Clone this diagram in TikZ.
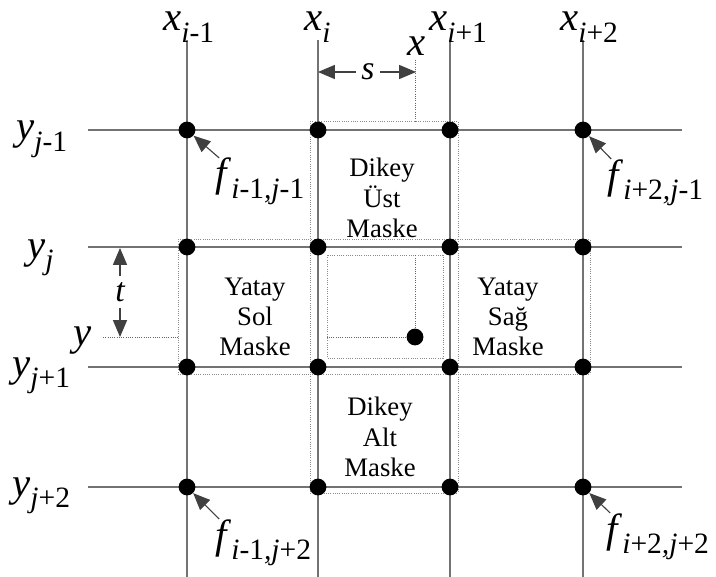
\documentclass[tikz,border=0pt]{standalone}
\usepackage{fontspec}
\setmainfont{Liberation Serif}
\usetikzlibrary{arrows.meta}
\newcommand{\glab}[2]{\textit{#1}\raisebox{-0.27em}{\fontsize{21}{21}\selectfont\itshape #2}}
\tikzset{
	gridline/.style={draw=black!55, line width=1.2pt},
	dot/.style={circle, fill=black, minimum size=0.42cm, inner sep=0pt},
	mask/.style={draw=black!45, densely dotted, line width=0.6pt},
	guide/.style={draw=black!60, densely dotted, line width=0.6pt},
	dimarrow/.style={-{Triangle[length=12pt, width=10pt]}, draw=black!75, line width=0.8pt},
	ptrarrow/.style={-{Triangle[length=12pt, width=10pt]}, draw=black!75, line width=0.8pt},
	masktext/.style={align=center, font=\fontsize{19}{21.5}\selectfont},
	mlabel/.style={inner sep=0pt, font=\fontsize{29}{31}\selectfont},
	dimlabel/.style={inner sep=4pt, font=\fontsize{24}{28}\selectfont\itshape}
}

\begin{document}
\begin{tikzpicture}[x=0.025cm, y=-0.025cm]
	\useasboundingbox (0,0) rectangle (716,577);

	% --- Grid ---
	\foreach \x in {187,318,450,583} \draw[gridline] (\x,40) -- (\x,577);
	\foreach \y in {130,247,367,487} \draw[gridline] (88,\y) -- (682,\y);

	% --- Masks ---
	\draw[mask] (310,121) rectangle (458,239); % upper
	\draw[mask] (178,239) rectangle (310,374); % left
	\draw[mask] (458,239) rectangle (590,374); % right
	\draw[mask] (310,374) rectangle (458,493); % lower
	\draw[mask] (327,255) rectangle (443,358); % centre cell

	\node[masktext] (upper) at (382,198) {Dikey\\Üst\\Maske};
	\node[masktext] (left) at (255,317) {Yatay\\Sol\\Maske};
	\node[masktext] (right) at (508,317) {Yatay\\Sağ\\Maske};
	\node[masktext] (lower) at (380,437) {Dikey\\Alt\\Maske};

	% --- Sample points ---
	\foreach \x [count=\i] in {187,318,450,583}
		\foreach \y [count=\j] in {130,247,367,487}
			\node[dot] (d\i\j) at (\x,\y) {};
	\node[dot] (pt) at (415,337) {};
	\draw[guide] (pt) -- (415,255);
	\draw[guide] (pt) -- (327,337);

	% --- Axis labels ---
	\node[mlabel, anchor=base west] (xa) at (163,31) {\glab{x}{i\textup{-1}}};
	\node[mlabel, anchor=base west] (xb) at (304,31) {\glab{x}{i}};
	\node[mlabel, anchor=base west] (xc) at (429,31) {\glab{x}{i\textup{+1}}};
	\node[mlabel, anchor=base west] (xd) at (560,31) {\glab{x}{i\textup{+2}}};
	\node[mlabel, anchor=base west] (ya) at (16,140) {\glab{y}{j\textup{-1}}};
	\node[mlabel, anchor=base west] (yb) at (27,258) {\glab{y}{j}};
	\node[mlabel, anchor=base west] (yc) at (12,376) {\glab{y}{j\textup{+1}}};
	\node[mlabel, anchor=base west] (yd) at (12,496) {\glab{y}{j\textup{+2}}};

	% --- Point offsets ---
	\node[mlabel, anchor=base west] (xp) at (407,56) {\textit{x}};
	\node[mlabel, anchor=base west] (yp) at (73,345) {\textit{y}};
	\draw[guide] (415,60) -- (415,121);
	\draw[guide] (103,337) -- (178,337);

	\node[dimlabel] (s) at (368,72) {s};
	\draw[dimarrow] (s.west) -- (318,72);
	\draw[dimarrow] (s.east) -- (416,72);
	\node[dimlabel] (t) at (120,292) {t};
	\draw[dimarrow] (t.north) -- (120,248);
	\draw[dimarrow] (t.south) -- (120,337);

	% --- Corner values ---
	\node[mlabel, anchor=base west] (f11) at (215,187) {\glab{f}{i\textup{-1},j\textup{-1}}};
	\node[mlabel, anchor=base west] (f41) at (607,188) {\glab{f}{i\textup{+2},j\textup{-1}}};
	\node[mlabel, anchor=base west] (f14) at (215,548) {\glab{f}{i\textup{-1},j\textup{+2}}};
	\node[mlabel, anchor=base west] (f44) at (606,542) {\glab{f}{i\textup{+2},j\textup{+2}}};
	\draw[ptrarrow] ([xshift=3pt]f11.north west) -- (d11);
	\draw[ptrarrow] ([xshift=3pt]f41.north west) -- (d41);
	\draw[ptrarrow] ([xshift=3pt]f14.north west) -- (d14);
	\draw[ptrarrow] ([xshift=3pt]f44.north west) -- (d44);
\end{tikzpicture}
\end{document}
